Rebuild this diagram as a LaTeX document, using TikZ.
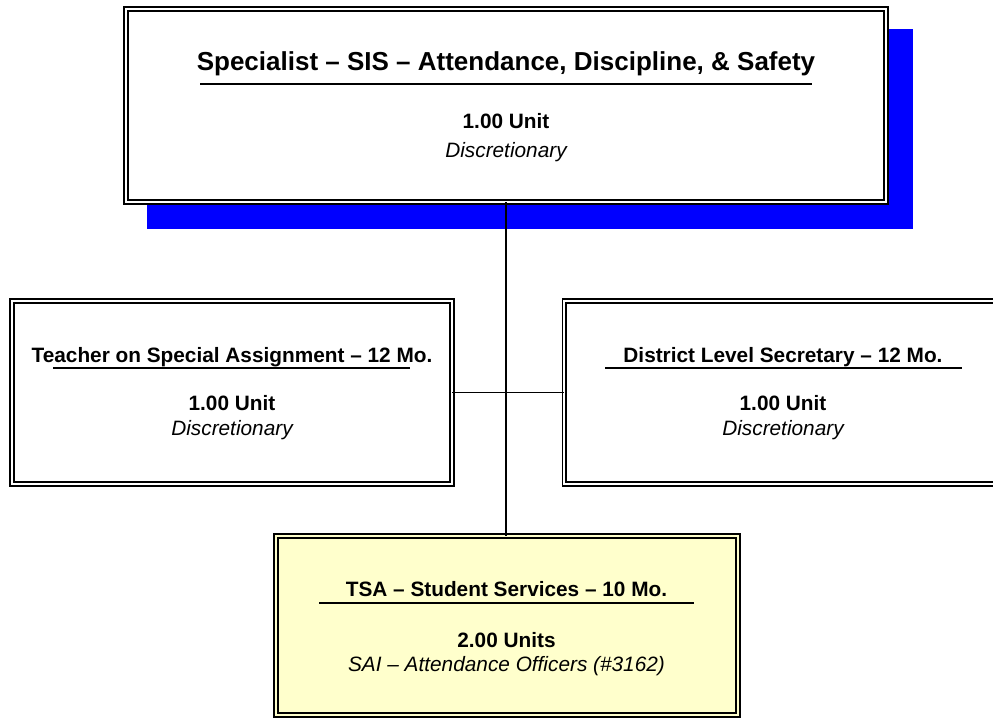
\documentclass[tikz,border=0pt]{standalone}
\usepackage{fontspec}
\setmainfont{Liberation Sans}
\definecolor{paleyellow}{HTML}{FFFFCC}
\begin{document}
\begin{tikzpicture}[
            x=0.5pt,y=-0.5pt,
            every node/.style={inner sep=0pt,outer sep=0pt},
            box/.style={draw,rectangle,line width=0.9pt,double=#1,double distance=1pt,fill=#1,
                minimum width=220.2pt,minimum height=91.7pt},
            box/.default=white,
            head/.style={anchor=base,font=\bfseries\fontsize{13}{15}\selectfont},
            title/.style={anchor=base,font=\bfseries\fontsize{10.4}{12}\selectfont},
            units/.style={anchor=base,font=\bfseries\fontsize{10.4}{12}\selectfont},
            note/.style={anchor=base,font=\itshape\fontsize{10.4}{12}\selectfont},
            rule/.style={line width=1pt},
            link/.style={line width=0.9pt}
            ]
            \clip (0,0) rectangle (993,719);
            % shadow of the top box
            \fill[blue] (147,29) rectangle (913,229);
            \node[box,minimum width=380.2pt,minimum height=96.7pt] (spec) at (506,105.5) {};
            \node[box] (tosa) at (232,392.5) {};
            \node[box] (dls) at (784.5,392.5) {};
            \node[box=paleyellow,minimum width=231.2pt,minimum height=89.7pt] (tsa) at (507,625.5) {};
            \draw[link] (spec.south) -- (spec.south |- tsa.north);
            \draw[link] (tosa.east) -- (dls.west);
            % top
            \node[head] (spec-t) at (506,70) {Specialist – SIS – Attendance, Discipline, \& Safety};
            \draw[rule] (200,84) -- (812,84);
            \node[units] (spec-u) at (506,128) {1.00 Unit};
            \node[note] (spec-n) at (506,157) {Discretionary};
            % left
            \node[title] (tosa-t) at (232,362.5) {Teacher on Special Assignment – 12 Mo.};
            \draw[rule] (53,368) -- (410,368);
            \node[units] (tosa-u) at (232,410) {1.00 Unit};
            \node[note] (tosa-n) at (232,435) {Discretionary};
            % right
            \node[title] (dls-t) at (783,362.5) {District Level Secretary – 12 Mo.};
            \draw[rule] (605,368) -- (962,368);
            \node[units] (dls-u) at (783,410) {1.00 Unit};
            \node[note] (dls-n) at (783,435) {Discretionary};
            % bottom
            \node[title] (tsa-t) at (506.5,596) {TSA – Student Services – 10 Mo.};
            \draw[rule] (319,603) -- (694,603);
            \node[units] (tsa-u) at (506.5,647) {2.00 Units};
            \node[note] (tsa-n) at (506.5,671.5) {SAI – Attendance Officers (\#3162)};
        \end{tikzpicture}
\end{document}
